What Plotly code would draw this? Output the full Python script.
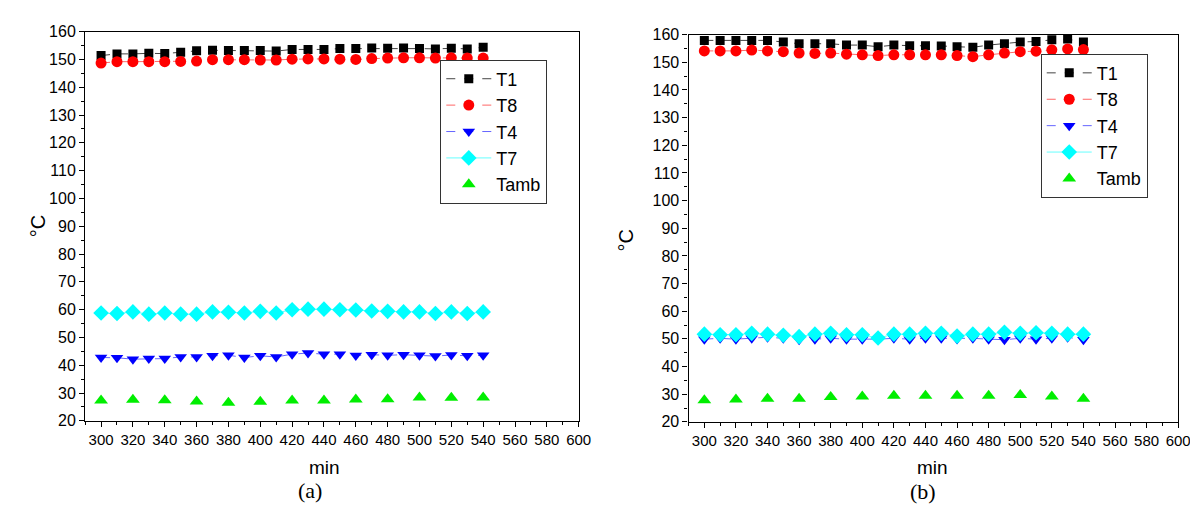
import plotly.graph_objects as go

# ---------------- data ----------------
t_main = [300, 310, 320, 330, 340, 350, 360, 370, 380, 390, 400, 410, 420,
          430, 440, 450, 460, 470, 480, 490, 500, 510, 520, 530, 540]
t_amb = [300, 320, 340, 360, 380, 400, 420, 440, 460, 480, 500, 520, 540]

a_T1 = [151.4, 152.0, 152.0, 152.2, 152.1, 152.6, 153.1, 153.3, 153.2, 153.2, 153.2, 153.0, 153.6,
        153.6, 153.6, 153.9, 153.9, 154.1, 154.0, 154.1, 153.9, 153.8, 154.0, 153.8, 154.4]
a_T8 = [148.7, 149.2, 149.2, 149.2, 149.2, 149.3, 149.4, 149.9, 149.9, 149.9, 149.8, 149.8, 150.1,
        150.2, 150.2, 150.1, 150.0, 150.3, 150.5, 150.6, 150.6, 150.5, 150.6, 150.5, 150.5]
a_T4 = [42.8, 42.7, 42.2, 42.4, 42.4, 43.0, 43.0, 43.4, 43.6, 42.8, 43.4, 43.0, 44.0,
        44.4, 44.0, 44.0, 43.5, 43.8, 43.6, 43.8, 43.6, 43.3, 43.7, 43.4, 43.6]
a_T7 = [58.8, 58.6, 59.2, 58.4, 58.8, 58.4, 58.4, 59.2, 59.1, 58.8, 59.4, 58.8, 60.0,
        60.2, 60.2, 60.0, 59.9, 59.5, 59.4, 59.2, 59.2, 58.6, 59.2, 58.6, 59.2]
a_Tamb = [27.3, 27.6, 27.4, 27.0, 26.5, 26.9, 27.3, 27.3, 27.7, 27.8, 28.4, 28.3, 28.4]

b_T1 = [157.9, 157.9, 157.9, 157.9, 157.9, 157.3, 156.7, 156.7, 156.7, 156.2, 156.2, 155.6, 156.2,
        156.0, 156.0, 155.9, 155.6, 155.4, 156.2, 156.7, 157.3, 157.5, 158.1, 158.4, 157.3]
b_T8 = [154.1, 154.1, 154.1, 154.4, 154.1, 153.8, 153.3, 153.2, 153.3, 152.9, 152.7, 152.4, 152.7,
        152.7, 152.7, 152.7, 152.4, 152.0, 152.7, 153.3, 153.8, 154.0, 154.5, 154.8, 154.6]
b_T4 = [49.9, 50.2, 49.9, 50.2, 50.6, 50.2, 49.7, 49.9, 50.2, 49.9, 49.9, 49.9, 50.2,
        49.9, 50.2, 50.2, 50.0, 50.2, 49.9, 49.7, 50.2, 49.9, 50.2, 50.6, 49.7]
b_T7 = [51.7, 51.5, 51.5, 52.0, 51.7, 51.3, 50.8, 51.7, 52.0, 51.5, 51.5, 50.3, 51.7,
        51.7, 52.0, 52.0, 51.0, 51.7, 51.7, 52.4, 52.0, 52.2, 52.0, 51.7, 51.7]
b_Tamb = [27.8, 28.1, 28.4, 28.4, 29.0, 29.2, 29.4, 29.4, 29.4, 29.4, 29.7, 29.2, 28.4]

x_ticks = list(range(300, 601, 20))
y_ticks = list(range(20, 161, 10))

panels = [
    dict(T1=a_T1, T8=a_T8, T4=a_T4, T7=a_T7, Tamb=a_Tamb, xa="x", ya="y", legend="legend"),
    dict(T1=b_T1, T8=b_T8, T4=b_T4, T7=b_T7, Tamb=b_Tamb, xa="x2", ya="y2", legend="legend2"),
]

styles = [
    ("T1", "black", "square", 9, "dash", "#444444"),
    ("T8", "red", "circle", 11, "dash", "#ff6666"),
    ("T4", "blue", "triangle-down", 11, "dash", "#6666ff"),
    ("T7", "cyan", "diamond", 12, "solid", "#66ffff"),
]

fig = go.Figure()
for p in panels:
    for name, col, sym, size, dash, lcol in styles:
        fig.add_trace(go.Scatter(
            x=t_main, y=p[name], name=name, mode="lines+markers",
            line=dict(color=lcol, width=1, dash=dash),
            marker=dict(color=col, symbol=sym, size=size),
            xaxis=p["xa"], yaxis=p["ya"], legend=p["legend"]))
    fig.add_trace(go.Scatter(
        x=t_amb, y=p["Tamb"], name="Tamb", mode="markers",
        marker=dict(color="#00ee00", symbol="triangle-up", size=12),
        xaxis=p["xa"], yaxis=p["ya"], legend=p["legend"]))

xtickfont = dict(family="Liberation Sans, Arial", size=15, color="black")
ytickfont = dict(family="Liberation Sans, Arial", size=16, color="black")
xcommon = dict(range=[290, 600], tickvals=x_ticks, ticks="outside", ticklen=5, tickwidth=1,
               tickcolor="black", showline=True, linecolor="black", linewidth=1.3, mirror=True,
               showgrid=False, zeroline=False, tickfont=xtickfont,
               minor=dict(dtick=10, tick0=300, ticks="outside", ticklen=3, tickcolor="black"))
ycommon = dict(range=[20, 160], tickvals=y_ticks, ticks="outside", ticklen=5, tickwidth=1,
               tickcolor="black", showline=True, linecolor="black", linewidth=1.3, mirror=True,
               showgrid=False, zeroline=False, tickfont=ytickfont,
               minor=dict(dtick=5, tick0=20, ticks="outside", ticklen=3, tickcolor="black"))

legcommon = dict(bgcolor="white", bordercolor="#333333", borderwidth=1,
                 font=dict(family="Liberation Sans, Arial", size=18, color="black"),
                 itemwidth=45, tracegroupgap=0, xanchor="left", yanchor="top")

fig.update_layout(
    width=1198, height=506, margin=dict(l=0, r=0, t=0, b=0),
    paper_bgcolor="white", plot_bgcolor="white", showlegend=True,
    xaxis=dict(domain=[0.0651, 0.4816], anchor="y", **xcommon),
    yaxis=dict(domain=[0.172, 0.968], anchor="x", **ycommon),
    xaxis2=dict(domain=[0.5743, 0.9875], anchor="y2", **xcommon),
    yaxis2=dict(domain=[0.170, 0.962], anchor="x2", **ycommon),
    legend=dict(x=0.3648, y=0.911, **legcommon),
    legend2=dict(x=0.8715, y=0.923, **legcommon),
)

ann_font = dict(family="Liberation Sans, Arial", size=19, color="black")
cel_font = dict(family="Liberation Sans, Arial", size=20, color="black")
serif = dict(family="Liberation Serif, Times New Roman", size=22, color="black")
for x, y, txt, f, ang in [
    (30, 218, "°C", cel_font, -90), (625, 232, "°C", cel_font, -90),
    (320, 467, "min", ann_font, 0), (935, 467, "min", ann_font, 0),
    (305, 491, "(a)", serif, 0), (925, 492, "(b)", serif, 0),
]:
    fig.add_annotation(x=x / 1198, y=1 - y / 506, xref="paper", yref="paper",
                       text=txt, showarrow=False, font=f, textangle=ang,
                       xanchor="center", yanchor="middle")

fig.write_html("out.html")
